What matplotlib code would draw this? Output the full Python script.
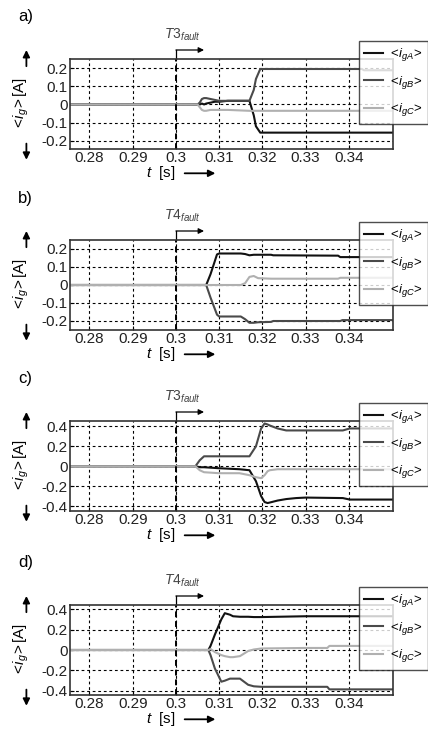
#!/usr/bin/env python3
import matplotlib
matplotlib.use('Agg')
import matplotlib.pyplot as plt
import matplotlib.transforms as mtransforms

plt.rcParams['font.family'] = ['Liberation Sans', 'DejaVu Sans']
plt.rcParams['mathtext.fontset'] = 'custom'
plt.rcParams['mathtext.rm'] = 'Liberation Sans'
plt.rcParams['mathtext.it'] = 'Liberation Sans:italic'

# ---- data ----
# a) T3 fault
t_a = [0.2755, 0.305, 0.3055, 0.306, 0.3065, 0.307, 0.308, 0.309, 0.310, 0.312, 0.314, 0.317,
       0.318, 0.3185, 0.3195, 0.330, 0.343, 0.3435, 0.3502]
iA_a = [0, 0, 0, 0.005, 0.0, 0.005, 0.01, 0.015, 0.015, 0.02, 0.02, 0.02,
        -0.06, -0.12, -0.155, -0.155, -0.155, -0.155, -0.155]
iB_a = [0, 0, 0.01, 0.03, 0.035, 0.035, 0.03, 0.025, 0.02, 0.02, 0.02, 0.02,
        0.08, 0.14, 0.195, 0.195, 0.195, 0.188, 0.188]
iC_a = [0, 0, -0.015, -0.03, -0.035, -0.035, -0.03, -0.03, -0.03, -0.03, -0.032, -0.035,
        -0.035, -0.035, -0.035, -0.035, -0.035, -0.035, -0.035]

# b) T4 fault
t_b = [0.2755, 0.307, 0.308, 0.3095, 0.310, 0.315, 0.316, 0.317, 0.318, 0.319, 0.322,
       0.3225, 0.3375, 0.338, 0.3385, 0.3502]
iA_b = [0, 0, 0.06, 0.17, 0.175, 0.175, 0.172, 0.165, 0.168, 0.168, 0.168,
        0.165, 0.163, 0.155, 0.155, 0.155]
iB_b = [0, 0, -0.07, -0.165, -0.175, -0.175, -0.19, -0.21, -0.21, -0.207, -0.205,
        -0.2, -0.2, -0.2, -0.195, -0.195]
iC_b = [0, 0, 0, 0, 0, 0, 0.01, 0.045, 0.05, 0.038, 0.035,
        0.035, 0.035, 0.04, 0.04, 0.04]

# c) T3 fault
t_c = [0.2755, 0.3045, 0.3055, 0.3065, 0.310, 0.3147, 0.317, 0.3185, 0.3197, 0.3205, 0.3212,
       0.3217, 0.3235, 0.3255, 0.3278, 0.330, 0.3386, 0.3402, 0.3502]
iA_c = [0, 0, -0.01, -0.01, -0.02, -0.03, -0.04, -0.15, -0.30, -0.36, -0.37,
        -0.365, -0.345, -0.33, -0.32, -0.315, -0.32, -0.335, -0.335]
iB_c = [0, 0, 0.06, 0.1, 0.1, 0.1, 0.1, 0.2, 0.38, 0.43, 0.42,
        0.41, 0.38, 0.36, 0.36, 0.36, 0.36, 0.38, 0.38]
iC_c = [0, 0, -0.04, -0.06, -0.07, -0.07, -0.09, -0.11, -0.12, -0.09, -0.05,
        -0.04, -0.03, -0.03, -0.03, -0.03, -0.03, -0.03, -0.03]

# d) T4 fault
t_d = [0.2755, 0.3075, 0.308, 0.309, 0.3105, 0.3113, 0.3125, 0.3132, 0.3148, 0.3167, 0.318,
       0.3198, 0.330, 0.335, 0.3355, 0.3502]
iA_d = [0, 0, 0.04, 0.15, 0.30, 0.36, 0.345, 0.33, 0.325, 0.325, 0.322,
        0.322, 0.33, 0.33, 0.33, 0.33]
iB_d = [0, 0, -0.05, -0.18, -0.31, -0.30, -0.28, -0.28, -0.28, -0.34, -0.355,
        -0.36, -0.36, -0.36, -0.385, -0.385]
iC_d = [0, 0, 0.01, -0.02, -0.05, -0.06, -0.07, -0.07, -0.06, -0.01, 0.005,
        0.015, 0.02, 0.02, 0.04, 0.04]

panel_names = ['a)', 'b)', 'c)', 'd)']
fault_names = ['T3', 'T4', 'T3', 'T4']
xticks = [0.28, 0.29, 0.30, 0.31, 0.32, 0.33, 0.34]
yticks_small = [-0.2, -0.1, 0, 0.1, 0.2]
yticks_big = [-0.4, -0.2, 0, 0.2, 0.4]
labels = [r'$<\!i_{gA}\!>$', r'$<\!i_{gB}\!>$', r'$<\!i_{gC}\!>$']
colors = ['#111111', '#4a4a4a', '#b0b0b0']
t_fault = 0.3

data = [(t_a, iA_a, iB_a, iC_a), (t_b, iA_b, iB_b, iC_b),
        (t_c, iA_c, iB_c, iC_c), (t_d, iA_d, iB_d, iC_d)]
ylims = [(-0.245, 0.25), (-0.25, 0.25), (-0.45, 0.455), (-0.44, 0.44)]
yticks = [yticks_small, yticks_small, yticks_big, yticks_big]

W, H = 428, 729
fig = plt.figure(figsize=(W / 100, H / 100), dpi=100)
tops = [59, 240, 421, 605]
ax_left, ax_right, ax_h = 70, 393, 90
arrow_kw = dict(arrowstyle='-|>', color='black', lw=1.3, mutation_scale=10, shrinkA=0, shrinkB=0)

for k in range(4):
    top = tops[k]
    ax = fig.add_axes([ax_left / W, 1 - (top + ax_h) / H, (ax_right - ax_left) / W, ax_h / H])
    t, ia, ib, ic = data[k]
    lines = []
    for y, c in zip((ia, ib, ic), colors):
        ln, = ax.plot(t, y, color=c, lw=1.5)
        lines.append(ln)
    ax.set_xlim(0.2755, 0.3502)
    ax.set_ylim(*ylims[k])
    ax.set_xticks(xticks)
    ax.set_xticklabels(['%g' % v for v in xticks])
    ax.set_yticks(yticks[k])
    ax.set_yticklabels(['%g' % v for v in yticks[k]])
    ax.tick_params(direction='in', labelsize=11, length=3, pad=1.5, labelcolor='#222222')
    ax.grid(True, color='black', linestyle=(0, (2.5, 2.5)), linewidth=0.8)
    ax.axvline(t_fault, color='black', linestyle=(0, (3, 2)), linewidth=1.4)
    for s in ax.spines.values():
        s.set_linewidth(1.2)
        s.set_color('#333333')

    # fault marker above the axes
    tr = mtransforms.blended_transform_factory(ax.transData, ax.transAxes)
    y_arr = 1 + 9 / ax_h
    ax.plot([t_fault, t_fault], [1.0, y_arr], color='black', lw=0.9, transform=tr, clip_on=False)
    ax.annotate('', xy=(0.3065, y_arr), xytext=(t_fault, y_arr), xycoords=tr, textcoords=tr,
                arrowprops=dict(arrowstyle='-|>', color='black', lw=0.9, mutation_scale=8,
                                shrinkA=0, shrinkB=0))
    ax.text(0.3015, 1 + 24 / ax_h, r'$%s_{fault}$' % fault_names[k], transform=tr,
            ha='center', va='center', fontsize=10, color='#444444')

    # axis labels and arrows
    ax.text(-0.15, 0.5, r'$<\!i_g\!>$[A]', transform=ax.transAxes, rotation=90,
            ha='center', va='center', fontsize=11)
    ax.annotate('', xy=(-0.135, 1.10), xytext=(-0.135, 0.92), xycoords='axes fraction', arrowprops=arrow_kw)
    ax.annotate('', xy=(-0.135, -0.12), xytext=(-0.135, 0.06), xycoords='axes fraction', arrowprops=arrow_kw)
    ax.text(0.28, -0.27, r'$t$  [s]', transform=ax.transAxes, ha='center', va='center',
            fontsize=11)
    ax.annotate('', xy=(0.45, -0.27), xytext=(0.355, -0.27), xycoords='axes fraction', arrowprops=arrow_kw)

    leg = fig.legend(lines, labels, loc='upper left',
                     bbox_to_anchor=(359 / W, 1 - (top - 18) / H),
                     fontsize=9.5, handlelength=1.4, handletextpad=0.4, labelspacing=0.8,
                     borderpad=0.4, borderaxespad=0, frameon=True, fancybox=False)
    leg.get_frame().set_edgecolor('#222222')
    leg.get_frame().set_linewidth(1.0)

    fig.text(18 / W, 1 - (top - 42) / H, panel_names[k], fontsize=12, ha='left', va='center')

fig.savefig('out.png', dpi=100)
